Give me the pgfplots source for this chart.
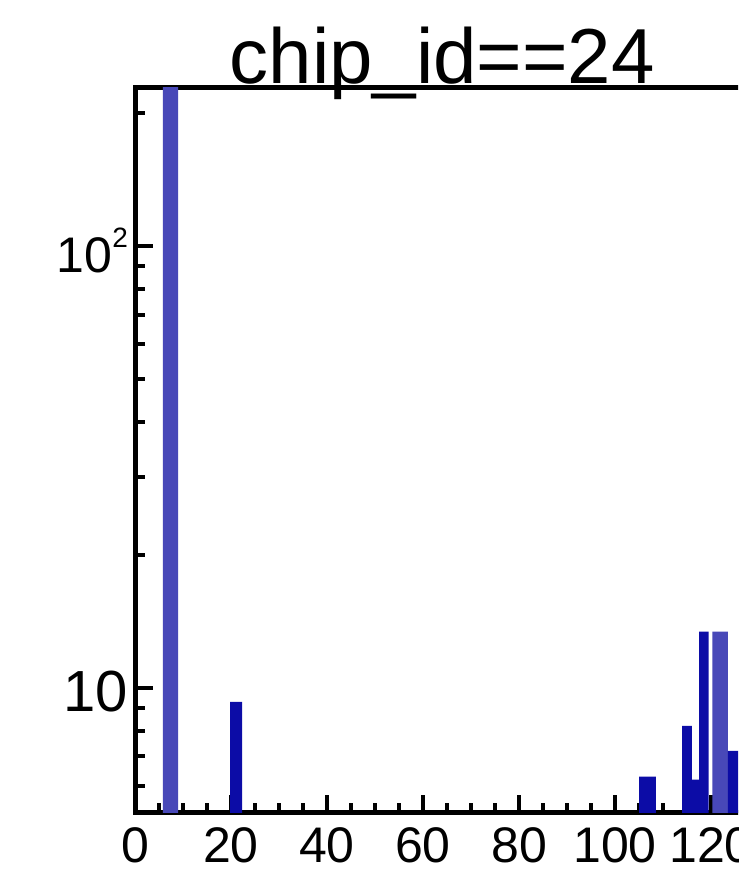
\documentclass[border=0pt]{standalone}
\usepackage{fontspec}
\setmainfont{Liberation Sans}
\usepackage{pgfplots}
\pgfplotsset{compat=1.18}
\definecolor{hmid}{HTML}{4848B8}
\definecolor{hdark}{HTML}{0C0CA6}
\begin{document}
\begin{tikzpicture}
\path[use as bounding box] (0,0) rectangle (369pt,438pt);
\clip (0,0) rectangle (369pt,438pt);
\begin{axis}[
  at={(67.5pt,31.5pt)}, anchor=south west,
  scale only axis, width=307.2pt, height=362.5pt,
  ymode=log, xmin=0, xmax=128, ymin=5.21, ymax=228,
  axis line style={line width=2.5pt},
  xtick={0,20,40,60,80,100,120},
  xticklabels={0,20,40,60,80,100,120},
  minor xtick={5,10,15,25,30,35,45,50,55,65,70,75,85,90,95,105,110,115,125},
  ytick={10,100},
  yticklabels={{\fontsize{29}{29}\selectfont 10},{\fontsize{25}{25}\selectfont 10\raisebox{0.5em}{\fontsize{14}{14}\selectfont 2}}},
  minor ytick={6,7,8,9,20,30,40,50,60,70,80,90,200},
  tick align=inside, xtick pos=bottom, ytick pos=left,
  major tick length=9pt, minor tick length=5pt,
  every tick/.style={black, line width=2pt},
  tick label style={font=\fontsize{25}{25}\selectfont},
  xticklabel style={yshift=-4pt},
  yticklabel style={yshift=-2pt},
  title={chip\_id==24},
  title style={at={(0.5,1)}, anchor=base, font=\fontsize{39}{39}\selectfont, yshift=-4pt, inner sep=0pt},
]
\addplot[ybar interval, fill=hmid, draw=none] coordinates {(5.8,400) (9.0,1) (120.3,13.4) (123.5,13.4)};
\addplot[ybar interval, fill=hdark, draw=none] coordinates {(19.8,9.3) (22.3,1) (105,6.3) (108.5,1) (114,8.2) (116,6.2) (117.5,13.4) (119.5,1) (123.5,7.2) (126.5,7.2)};
\end{axis}
\end{tikzpicture}
\end{document}
